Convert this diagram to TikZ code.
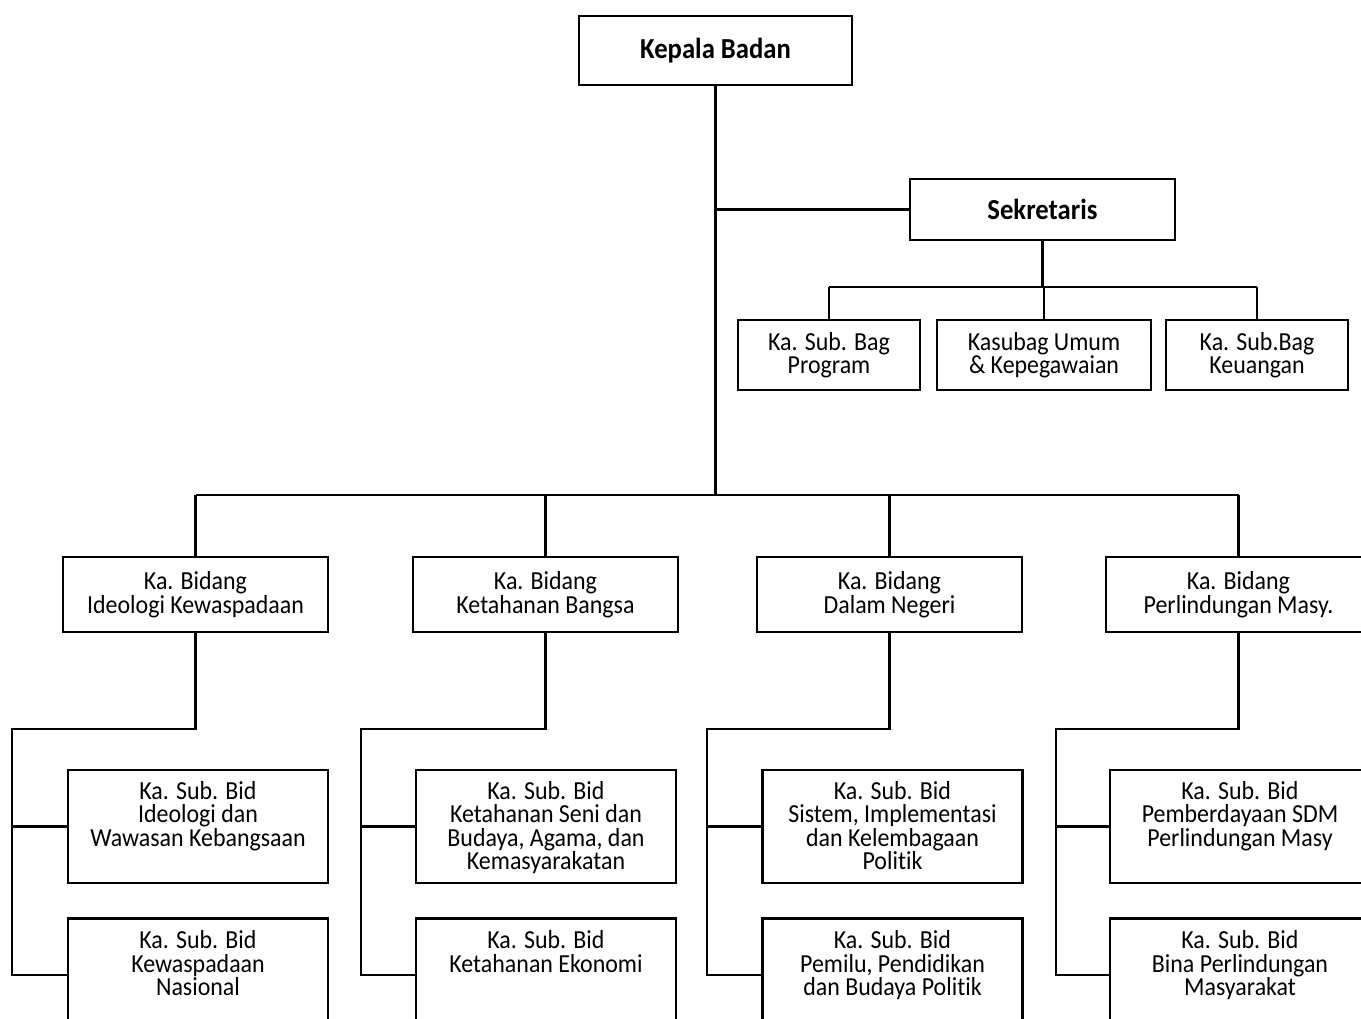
\documentclass[tikz,border=0pt]{standalone}
\usepackage{fontspec}
\setmainfont{Carlito}[FakeStretch=0.92,Ligatures=NoCommon]
\begin{document}
\begin{tikzpicture}[x=1pt,y=-1pt,
  box/.style={draw=black,line width=2.3pt,rectangle,inner sep=0pt,align=center,
    font=\fontsize{26}{23.5}\selectfont},
  txt/.style={inner sep=0pt,align=center,font=\fontsize{26}{23.5}\selectfont},
  conn/.style={draw=black,line width=2.3pt}]
\useasboundingbox (0,0) rectangle (1361,1019);
\clip (0,0) rectangle (1361,1019);
% top
\node[box,minimum width=273pt,minimum height=69pt,font=\fontsize{29}{26}\selectfont\bfseries] (k) at (715.5,50.5) {Kepala Badan};
\node[box,minimum width=265pt,minimum height=61pt,font=\fontsize{29}{26}\selectfont\bfseries] (s) at (1042.5,209.5) {Sekretaris};
\node[box,minimum width=182pt,minimum height=70pt] (sb1) at (829,355) {Ka. Sub. Bag\\Program};
\node[box,minimum width=214pt,minimum height=70pt] (sb2) at (1044,355) {Kasubag Umum\\\& Kepegawaian};
\node[box,minimum width=182pt,minimum height=70pt] (sb3) at (1257,355) {Ka. Sub.Bag\\Keuangan};
% bidang
\node[box,minimum width=265pt,minimum height=75pt] (b1) at (195.5,594.5) {Ka. Bidang\\Ideologi Kewaspadaan};
\node[box,minimum width=265pt,minimum height=75pt] (b2) at (545.5,594.5) {Ka. Bidang\\Ketahanan Bangsa};
\node[box,minimum width=265pt,minimum height=75pt] (b3) at (889.5,594.5) {Ka. Bidang\\Dalam Negeri};
\node[box,minimum width=265pt,minimum height=75pt] (b4) at (1238.5,594.5) {Ka. Bidang\\Perlindungan Masy.};
% sub bidang boxes
\foreach \n/\x in {1/198,2/546,3/892.5,4/1240}{
  \node[box,minimum width=260pt,minimum height=113pt] (a\n) at (\x,826.5) {};
  \node[box,minimum width=260pt,minimum height=113pt] (c\n) at (\x,975) {};
}
\node[txt,anchor=north] (ta1) at ([yshift=-12pt]a1.north) {Ka. Sub. Bid\\Ideologi dan\\Wawasan Kebangsaan};
\node[txt,anchor=north] (tc1) at ([yshift=-13pt]c1.north) {Ka. Sub. Bid\\Kewaspadaan\\Nasional};
\node[txt,anchor=north] (ta2) at ([yshift=-12pt]a2.north) {Ka. Sub. Bid\\Ketahanan Seni dan\\Budaya, Agama, dan\\Kemasyarakatan};
\node[txt,anchor=north] (tc2) at ([yshift=-13pt]c2.north) {Ka. Sub. Bid\\Ketahanan Ekonomi};
\node[txt,anchor=north] (ta3) at ([yshift=-12pt]a3.north) {Ka. Sub. Bid\\Sistem, Implementasi\\dan Kelembagaan\\Politik};
\node[txt,anchor=north] (tc3) at ([yshift=-13pt]c3.north) {Ka. Sub. Bid\\Pemilu, Pendidikan\\dan Budaya Politik};
\node[txt,anchor=north] (ta4) at ([yshift=-12pt]a4.north) {Ka. Sub. Bid\\Pemberdayaan SDM\\Perlindungan Masy};
\node[txt,anchor=north] (tc4) at ([yshift=-13pt]c4.north) {Ka. Sub. Bid\\Bina Perlindungan\\Masyarakat};
% connectors top
\coordinate (bus) at (716,495);
\coordinate (sbus) at (1044,287);
\draw[conn] (k.south) -- (k.south |- bus);
\draw[conn] (k.south |- s.west) -- (s.west);
\draw[conn] (s.south) -- (s.south |- sbus);
\draw[conn] (sb1.north |- sbus) -- (sb3.north |- sbus);
\foreach \n in {1,2,3}{\draw[conn] (sb\n.north |- sbus) -- (sb\n.north);}
\draw[conn] (b1.north |- bus) -- (b4.north |- bus);
\foreach \n in {1,2,3,4}{\draw[conn] (b\n.north |- bus) -- (b\n.north);}
% sub connectors
\coordinate (l1) at (12,729);
\coordinate (l2) at (361,729);
\coordinate (l3) at (707,729);
\coordinate (l4) at (1056,729);
\foreach \n in {1,2,3,4}{
  \draw[conn] (b\n.south) |- (l\n) |- (c\n.west);
  \draw[conn] (l\n |- a\n.west) -- (a\n.west);
}
\end{tikzpicture}
\end{document}
